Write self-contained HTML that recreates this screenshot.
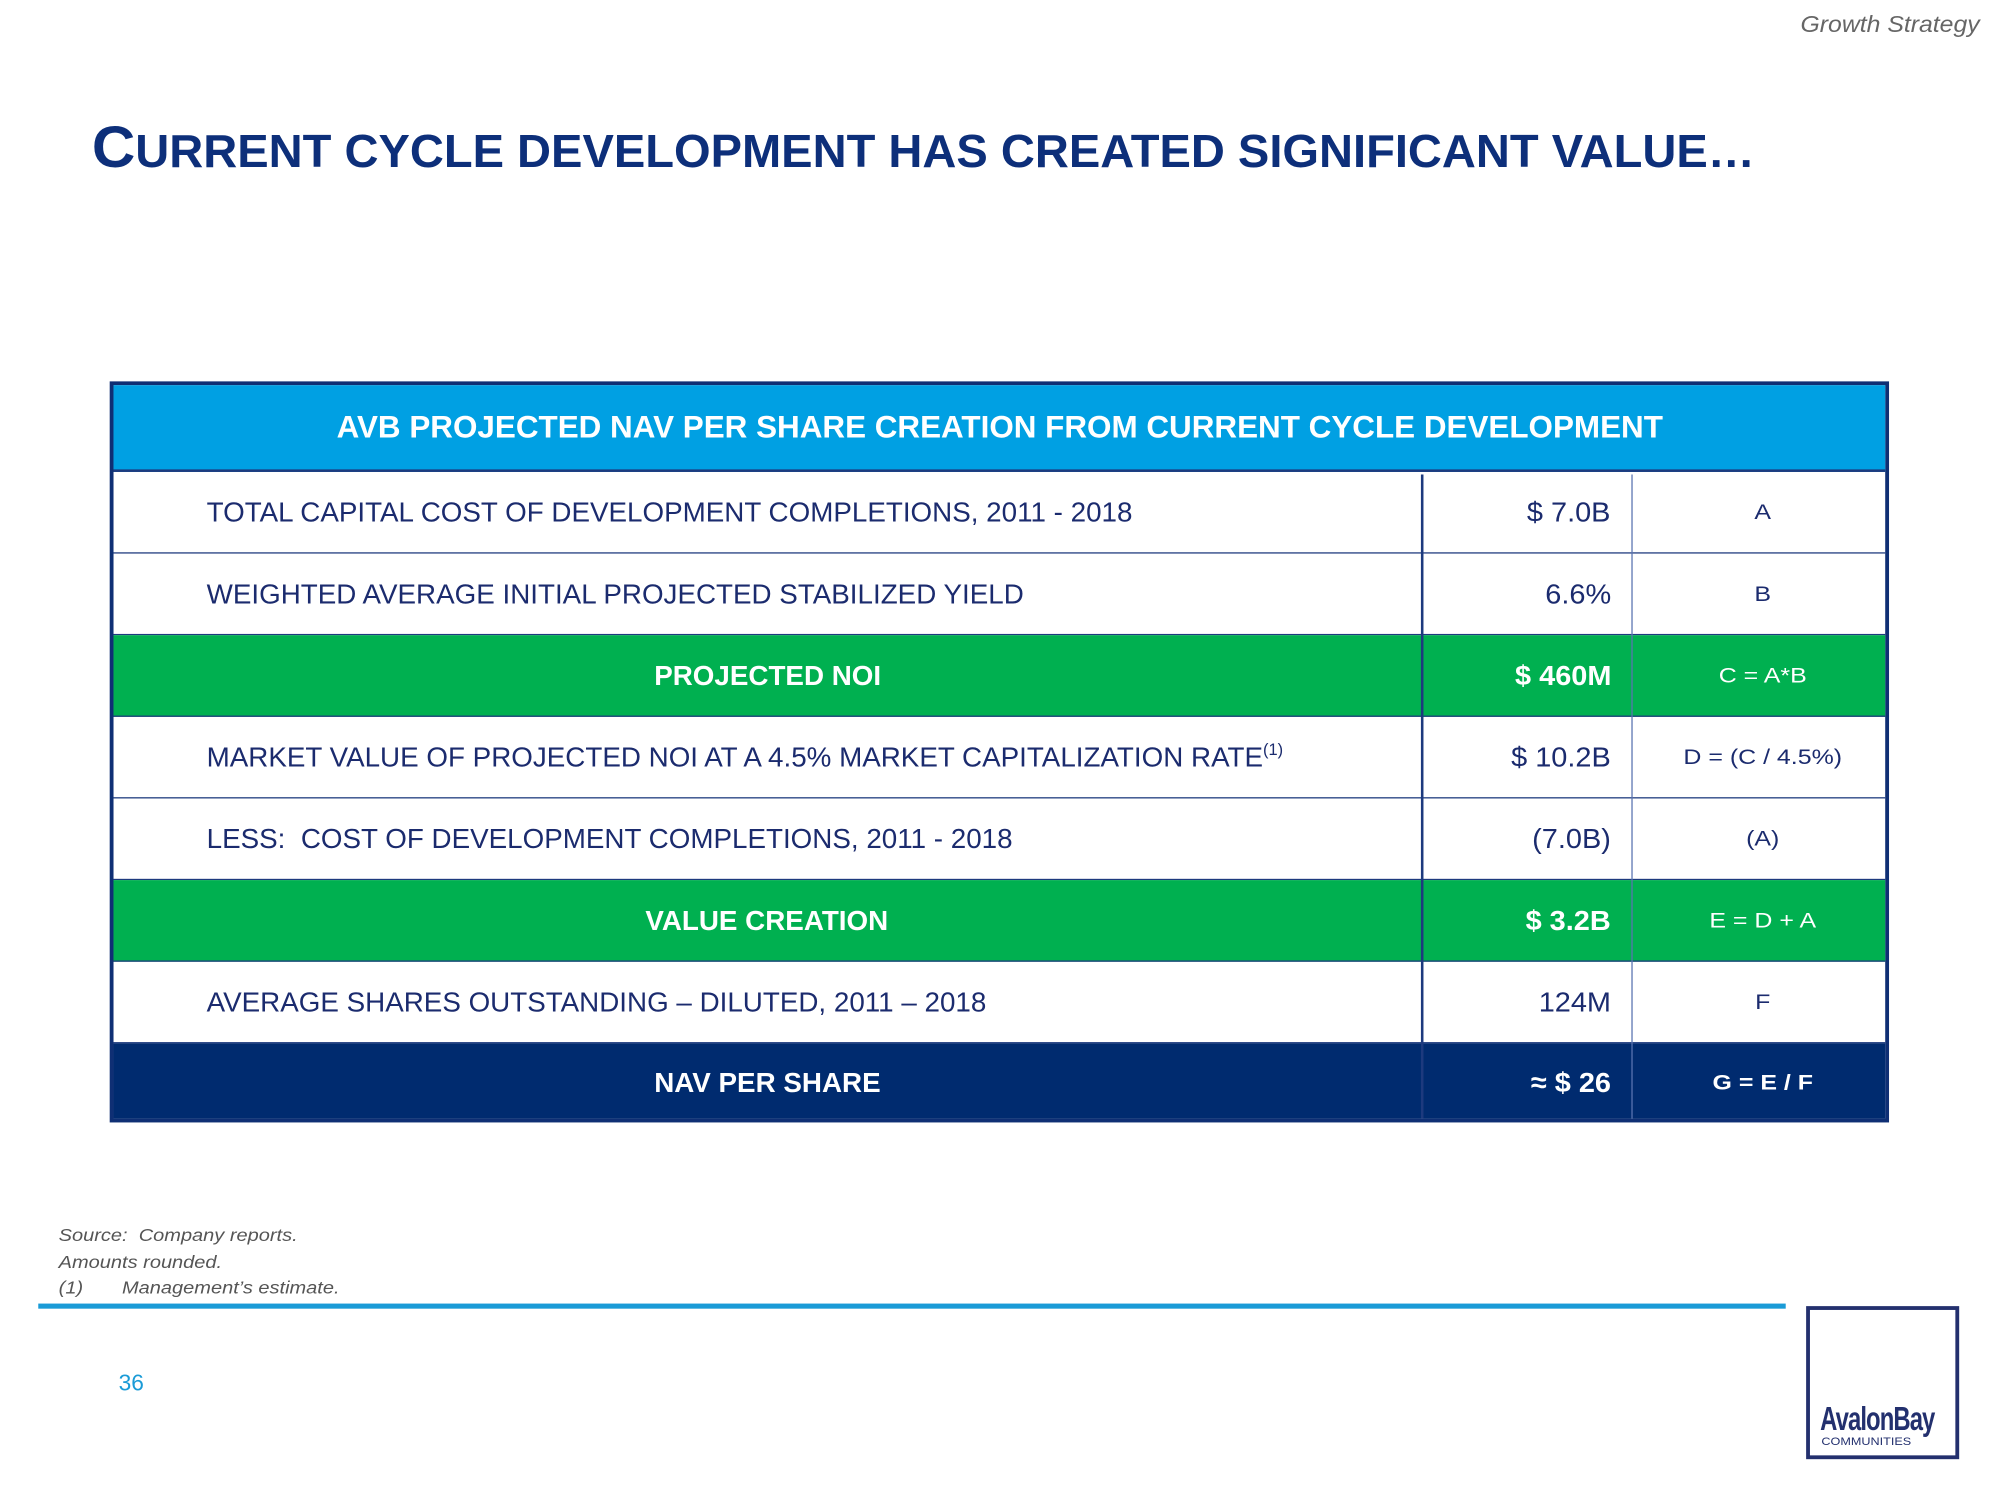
<!DOCTYPE html>
<html><head><meta charset="utf-8">
<style>
html,body{margin:0;padding:0;background:#fff;}
body{width:2000px;height:1500px;overflow:hidden;position:relative;font-family:"Liberation Sans",sans-serif;}
#wrap{position:absolute;left:0;top:0;width:1568px;height:1176px;transform:scale(1.27551);transform-origin:0 0;}
.abs{position:absolute;}
.c{display:inline-block;transform:scaleX(0.99);white-space:nowrap;}
#tbl{position:absolute;left:86px;top:299px;width:1395px;height:581px;border:3px solid #0f2f74;box-sizing:border-box;}
.row{position:absolute;left:0;width:1389px;height:64px;border-bottom:1.5px solid #1d3a7e;box-sizing:border-box;color:#1b2b6e;font-size:22px;}
.row .l{position:absolute;left:73px;top:0;line-height:64px;transform-origin:left center;}
.row .lc{position:absolute;left:0;width:1025px;text-align:center;line-height:64px;font-weight:bold;}
.row .v{position:absolute;right:215px;top:0;line-height:64px;transform-origin:right center;transform:scaleX(1.03);}
.row .f{position:absolute;left:1193px;width:200px;text-align:center;line-height:64px;font-size:17px;transform:scaleX(1.15);}
.vl{position:absolute;top:70px;bottom:0;width:1.5px;background:#1d3a7e;}
.g{background:#00b050;color:#fff;}
.n{background:#002b6f;color:#fff;}
sup{line-height:0;font-size:13px;vertical-align:9px;}
</style></head><body>
<div id="wrap">
<div class="abs" style="right:16px;top:9px;font-size:18px;font-style:italic;color:#666;"><span class="c" style="transform-origin:right center;transform:scaleX(1.08);">Growth Strategy</span></div>
<div class="abs" style="left:72px;top:88px;color:#0d2f7a;font-weight:bold;white-space:nowrap;"><span class="c" style="transform-origin:left center;transform:scaleX(1.025);"><span style="font-size:46px;">C</span><span style="font-size:36px;">URRENT CYCLE DEVELOPMENT HAS CREATED SIGNIFICANT VALUE…</span></span></div>

<div id="tbl">
  <div class="abs" style="left:0;top:0;width:1389px;height:68px;background:#00a0e3;border-bottom:2px solid #1d3a7e;box-sizing:border-box;color:#fff;font-weight:bold;font-size:25px;text-align:center;line-height:66px;"><span class="c" style="transform:scaleX(0.985);">AVB PROJECTED NAV PER SHARE CREATION FROM CURRENT CYCLE DEVELOPMENT</span></div>

  <div class="row" style="top:68px;"><span class="l c">TOTAL CAPITAL COST OF DEVELOPMENT COMPLETIONS, 2011 - 2018</span><span class="v c">$ 7.0B</span><span class="f c">A</span></div>
  <div class="row" style="top:132px;"><span class="l c">WEIGHTED AVERAGE INITIAL PROJECTED STABILIZED YIELD</span><span class="v c">6.6%</span><span class="f c">B</span></div>
  <div class="row g" style="top:196px;"><span class="lc"><span class="c">PROJECTED NOI</span></span><span class="v c" style="font-weight:bold;">$ 460M</span><span class="f c">C = A*B</span></div>
  <div class="row" style="top:260px;"><span class="l c">MARKET VALUE OF PROJECTED NOI AT A 4.5% MARKET CAPITALIZATION RATE<sup>(1)</sup></span><span class="v c">$ 10.2B</span><span class="f c">D = (C / 4.5%)</span></div>
  <div class="row" style="top:324px;"><span class="l c">LESS:&nbsp; COST OF DEVELOPMENT COMPLETIONS, 2011 - 2018</span><span class="v c">(7.0B)</span><span class="f c">(A)</span></div>
  <div class="row g" style="top:388px;"><span class="lc"><span class="c">VALUE CREATION</span></span><span class="v c" style="font-weight:bold;">$ 3.2B</span><span class="f c">E = D + A</span></div>
  <div class="row" style="top:452px;"><span class="l c">AVERAGE SHARES OUTSTANDING – DILUTED, 2011 – 2018</span><span class="v c">124M</span><span class="f c">F</span></div>
  <div class="row n" style="top:516px;height:59px;border-bottom:none;"><span class="lc" style="line-height:62px;"><span class="c">NAV PER SHARE</span></span><span class="v c" style="font-weight:bold;line-height:62px;">≈ $ 26</span><span class="f c" style="font-weight:bold;line-height:62px;">G = E / F</span></div>
  <div class="vl" style="left:1025px;"></div>
  <div class="vl" style="left:1190px;background:#5a74b0;width:1px;"></div>
</div>

<div class="abs" style="left:46px;top:958px;font-size:14px;font-style:italic;color:#555;line-height:20.5px;">
<div class="c" style="transform-origin:left center;transform:scaleX(1.12);">Source:&nbsp; Company reports.</div><br>
<div class="c" style="transform-origin:left center;transform:scaleX(1.12);">Amounts rounded.</div><br>
<div class="c" style="transform-origin:left center;transform:scaleX(1.12);">(1)&nbsp;&nbsp;&nbsp;&nbsp;&nbsp;&nbsp; Management’s estimate.</div>
</div>
<div class="abs" style="left:30px;top:1022px;width:1370px;height:4px;background:#1a9bd7;"></div>
<div class="abs" style="left:93px;top:1074px;font-size:18px;color:#1a9bd7;"><span class="c" style="transform-origin:left center;">36</span></div>
<div class="abs" style="left:1416px;top:1024px;width:120px;height:120px;border:3px solid #23306e;box-sizing:border-box;color:#23306e;">
  <div class="abs" style="left:8px;top:70px;font-size:26px;font-weight:bold;letter-spacing:-1px;"><span class="c" style="transform-origin:left center;transform:scaleX(0.72);">AvalonBay</span></div>
  <div class="abs" style="left:9px;top:98px;font-size:9px;"><span class="c" style="transform-origin:left center;transform:scaleX(1.1);">COMMUNITIES</span></div>
</div>
</div>
</body></html>
